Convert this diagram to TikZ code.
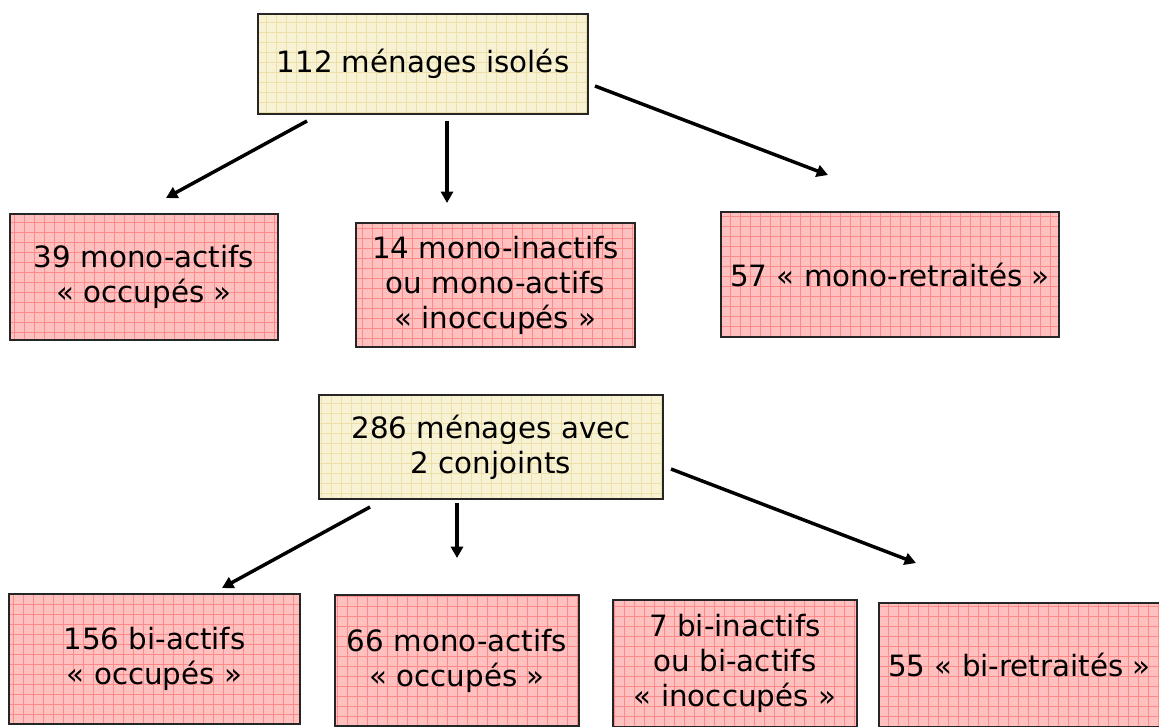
\documentclass[tikz,border=0pt]{standalone}
\usepackage{fontspec}
\setmainfont{DejaVu Sans}
\usetikzlibrary{arrows.meta}
\definecolor{cream}{HTML}{F8F2D4}
\definecolor{creamline}{HTML}{ECDFA8}
\definecolor{rose}{HTML}{FFC0C0}
\definecolor{roseline}{HTML}{FF8A8A}
\tikzset{
  box/.style   = {rectangle, draw=black!85, line width=1.1pt, inner sep=0pt,
                  align=center, font=\fontsize{22}{26.3}\selectfont},
  root/.style  = {box, fill=cream, path picture={
                  \draw[creamline, line width=0.5pt]
                  (path picture bounding box.south west) grid[step=7.5pt]
                  (path picture bounding box.north east);}},
  leaf/.style  = {box, fill=rose, path picture={
                  \draw[roseline, line width=0.5pt]
                  (path picture bounding box.south west) grid[step=7.5pt]
                  (path picture bounding box.north east);}},
  flow/.style  = {-{Triangle[length=8.5pt, width=9pt]}, line width=2.6pt},
}
\begin{document}
\begin{tikzpicture}[x=0.75pt, y=-0.75pt]

  \useasboundingbox (0,0) rectangle (1159,726);

  % isolated households
  \node[root, minimum width=247.5pt, minimum height=75pt]   (iso) at (423,64)    {112 ménages isolés};
  \node[leaf, minimum width=201pt,   minimum height=94.5pt] (mocc) at (144,277)  {39 mono-actifs\\«~occupés~»};
  \node[leaf, minimum width=209pt,   minimum height=93pt]   (mina) at (495.5,285) {14 mono-inactifs\\ou mono-actifs\\«~inoccupés~»};
  \node[leaf, minimum width=253.5pt, minimum height=94pt]   (mret) at (890,274.5) {57 «~mono-retraités~»};

  % couples
  \node[root, minimum width=258pt,   minimum height=78pt]   (cpl) at (491,447)   {286 ménages avec\\2 conjoints};
  \node[leaf, minimum width=218pt,   minimum height=97.5pt] (bocc) at (154.5,659) {156 bi-actifs\\«~occupés~»};
  \node[leaf, minimum width=183pt,   minimum height=98pt]   (bmon) at (457,660.5) {66 mono-actifs\\«~occupés~»};
  \node[leaf, minimum width=183pt,   minimum height=95pt]   (bina) at (735,663.5) {7 bi-inactifs\\ou bi-actifs\\«~inoccupés~»};
  \node[leaf, minimum width=211pt,   minimum height=93pt]   (bret) at (1019.5,665) {55 «~bi-retraités~»};

  % arrow ends
  \coordinate (iso-l)  at (307,121);  \coordinate (mocc-t) at (166,198);
  \coordinate (iso-m)  at (447,121);  \coordinate (mina-t) at (447,203);
  \coordinate (iso-r)  at (595,86);   \coordinate (mret-t) at (828,175);
  \coordinate (cpl-l)  at (370,507);  \coordinate (bocc-t) at (222,588);
  \coordinate (cpl-m)  at (457,503);  \coordinate (bmon-t) at (457,558);
  \coordinate (cpl-r)  at (671,469);  \coordinate (bret-t) at (916,563);

  % arrows
  \draw[flow] (iso-l) -- (mocc-t);
  \draw[flow] (iso-m) -- (mina-t);
  \draw[flow] (iso-r) -- (mret-t);
  \draw[flow] (cpl-l) -- (bocc-t);
  \draw[flow] (cpl-m) -- (bmon-t);
  \draw[flow] (cpl-r) -- (bret-t);

\end{tikzpicture}
\end{document}
